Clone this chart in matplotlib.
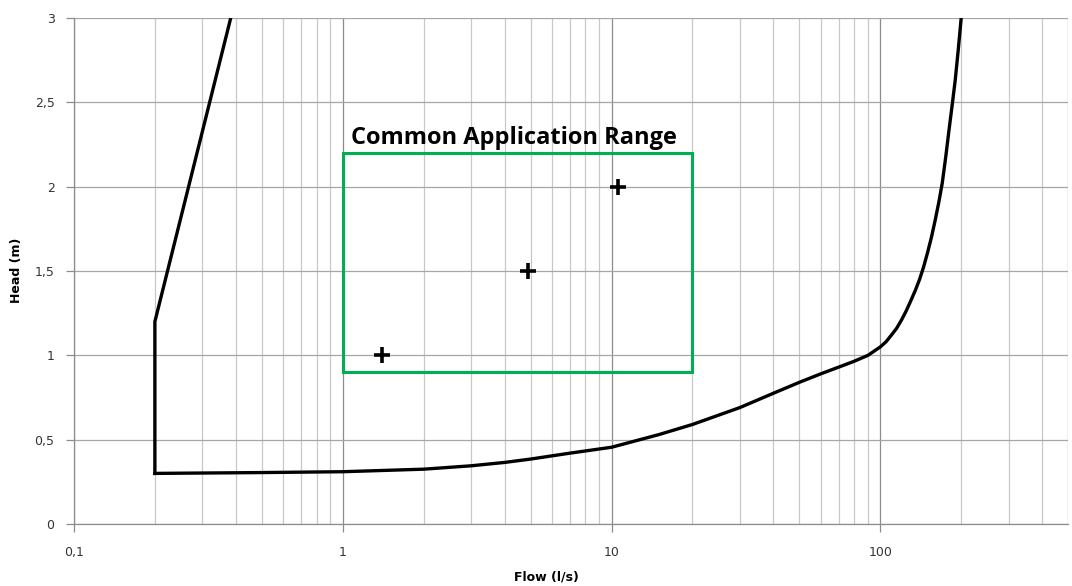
import matplotlib
matplotlib.use("Agg")
import matplotlib.pyplot as plt
from matplotlib.ticker import FixedLocator, FuncFormatter, NullFormatter

# left limit curve (vertical line at 0.2 l/s, then steep rise)
left_flow = [0.2, 0.2, 0.2, 0.4]
left_head = [0.30, 0.30, 1.2, 3.12]

# lower / right limit curve
lim_flow = [0.2, 0.5, 1, 2, 3, 4, 5, 7, 10, 15, 20, 30, 40, 50, 60, 70, 80, 90,
            100, 105, 110, 115, 120, 125, 130, 135, 140, 145, 150, 155, 160, 165,
            170, 175, 180, 185, 190, 195, 200]
lim_head = [0.30, 0.305, 0.31, 0.325, 0.345, 0.365, 0.385, 0.42, 0.455, 0.53, 0.59,
            0.69, 0.775, 0.84, 0.89, 0.93, 0.965, 1.0, 1.05, 1.08, 1.12, 1.16, 1.21,
            1.265, 1.325, 1.385, 1.45, 1.525, 1.61, 1.70, 1.80, 1.905, 2.02, 2.17,
            2.33, 2.48, 2.63, 2.81, 3.0]

# common application range box
box_flow = [1, 20, 20, 1, 1]
box_head = [0.9, 0.9, 2.2, 2.2, 0.9]

# sample points
pt_flow = [1.4, 4.9, 10.6]
pt_head = [1.0, 1.5, 2.0]

x_major = [0.1, 1, 10, 100]
x_minor = [m * d for d in [0.1, 1, 10, 100] for m in range(2, 10)]
x_minor = [v for v in x_minor if v <= 500]
y_ticks = [0, 0.5, 1, 1.5, 2, 2.5, 3]


def comma(v, pos=None):
    return f"{v:g}".replace(".", ",")


fig = plt.figure(figsize=(10.72, 5.86), dpi=100)
ax = fig.add_axes([0.069, 0.1058, 0.9274, 0.8635])

ax.set_xscale("log")
ax.set_xlim(0.1, 500)
ax.set_ylim(0, 3)

ax.xaxis.set_major_locator(FixedLocator(x_major))
ax.xaxis.set_major_formatter(FuncFormatter(comma))
ax.xaxis.set_minor_locator(FixedLocator(x_minor))
ax.xaxis.set_minor_formatter(NullFormatter())
ax.yaxis.set_major_locator(FixedLocator(y_ticks))
ax.yaxis.set_major_formatter(FuncFormatter(comma))

ax.grid(True, which="major", axis="x", color="#8c8c8c", lw=0.9)
ax.grid(True, which="minor", axis="x", color="#c8c8c8", lw=0.9)
ax.grid(True, which="major", axis="y", color="#a6a6a6", lw=0.9)
ax.set_axisbelow(True)

for s in ["top", "right"]:
    ax.spines[s].set_visible(False)
for s in ["left", "bottom"]:
    ax.spines[s].set_color("#8c8c8c")
    ax.spines[s].set_linewidth(0.9)

ax.tick_params(axis="both", which="major", length=6, width=0.9, color="#8c8c8c",
               labelsize=9, labelcolor="#333333", pad=8)
ax.tick_params(axis="x", which="minor", length=0)
ax.tick_params(axis="x", which="major", pad=10)

# line at the right edge, as in the original
ax.axvline(500, color="#c8c8c8", lw=0.9, zorder=0)

ax.plot(left_flow, left_head, color="black", lw=2.4, solid_joinstyle="miter")
ax.plot(lim_flow, lim_head, color="black", lw=2.4, solid_joinstyle="round")
ax.plot(box_flow, box_head, color="#00b050", lw=2.2, solid_joinstyle="miter")
ax.plot(pt_flow, pt_head, linestyle="none", marker="+", color="black",
        markersize=11, markeredgewidth=2.6)

ax.text(1.07, 2.25, "Common Application Range", fontsize=17, fontweight="bold",
        family="Open Sans", ha="left", va="baseline", color="black")

ax.set_xlabel("Flow (l/s)", fontsize=9, fontweight="bold")
ax.xaxis.set_label_coords((546 - 74) / 994, -(577 - 524) / 506)
ax.xaxis.label.set_va("center")
ax.set_ylabel("Head (m)", fontsize=9, fontweight="bold")
ax.yaxis.set_label_coords(-(74 - 17) / 994, (524 - 270) / 506)
ax.yaxis.label.set_va("center")

fig.savefig("out.png", dpi=100)
plt.close(fig)
